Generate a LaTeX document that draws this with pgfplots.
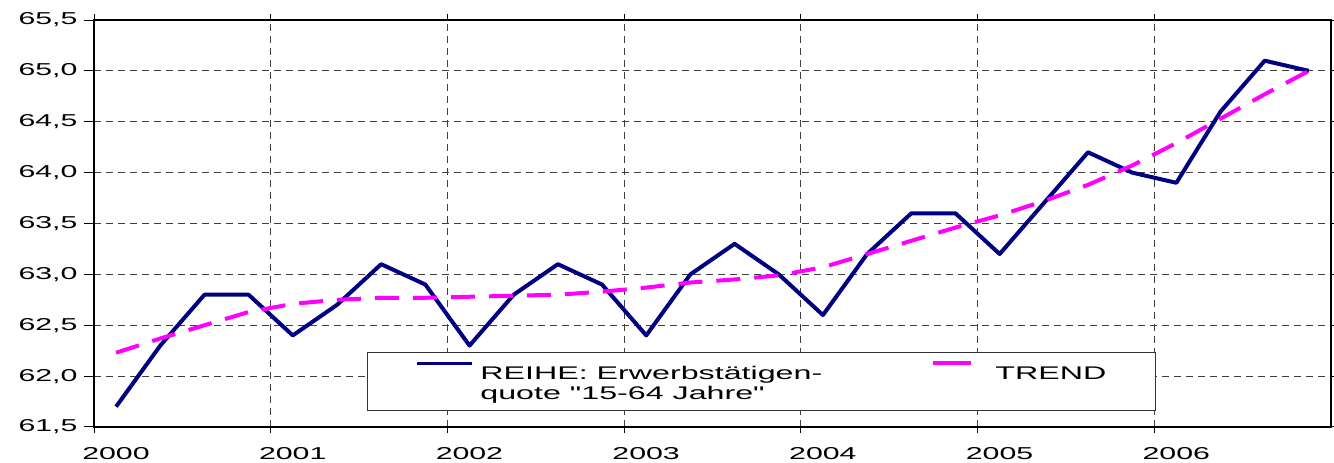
\documentclass[border=0pt]{standalone}
\usepackage{fontspec}
\setmainfont{Liberation Sans}
\newfontfamily\widefont[FakeStretch=1.76]{Liberation Sans}
\usepackage{pgfplots}
\pgfplotsset{compat=1.18}
\definecolor{navy}{RGB}{0,0,128}
\definecolor{trendmag}{RGB}{255,0,255}
\begin{document}
\begin{tikzpicture}
\path[use as bounding box] (0,0) rectangle (1334bp,463bp);
\begin{axis}[
  at={(94bp,36bp)}, anchor=south west,
  scale only axis, width=1237bp, height=407bp,
  xmin=0, xmax=28, ymin=61.5, ymax=65.5,
  xtick={0,4,...,24}, xticklabels={2000,2001,2002,2003,2004,2005,2006},
  ytick={61.5,62,...,65.5},
  /pgf/number format/assume math mode=true,
  yticklabel style={/pgf/number format/use comma, /pgf/number format/fixed, /pgf/number format/fixed zerofill, /pgf/number format/precision=1, xshift=-3bp},
  tick label style={font=\widefont\fontsize{17.2bp}{21bp}\selectfont},
  x tick label style={xshift=22bp, yshift=-7bp},
  tick align=outside, major tick length=10bp,
  x tick style={/pgfplots/major tick length=6bp},
  tick style={black, line width=1bp},
  xmajorgrids, ymajorgrids,
  grid style={black!75, line width=0.8bp, dash pattern=on 7bp off 5bp},
  axis line style={black, line width=1.3bp},
  legend style={at={(rel axis cs:0.2207,0.1843)}, anchor=north west,
    draw=black!80, line width=0.8bp, fill=white, inner xsep=0pt, inner ysep=9bp,
    column sep=0pt, row sep=0pt,
    nodes={inner sep=0pt, font=\widefont\fontsize{18.3bp}{20bp}\selectfont}},
  legend columns=2,
  legend cell align=left,
]
\addplot[navy, line width=4bp, line join=round,
  legend image code/.code={\path[draw=none,fill=none] (0bp,0bp) rectangle (113bp,20bp);
    \draw[navy, solid, line width=3bp] (50bp,20bp+0.35em) -- (105bp,20bp+0.35em);}]
  coordinates {
(0.5,61.7) (1.5,62.3) (2.5,62.8) (3.5,62.8) (4.5,62.4) (5.5,62.7) (6.5,63.1)
(7.5,62.9) (8.5,62.3) (9.5,62.8) (10.5,63.1) (11.5,62.9) (12.5,62.4) (13.5,63.0)
(14.5,63.3) (15.5,63.0) (16.5,62.6) (17.5,63.2) (18.5,63.6) (19.5,63.6) (20.5,63.2)
(21.5,63.7) (22.5,64.2) (23.5,64.0) (24.5,63.9) (25.5,64.6) (26.5,65.1) (27.5,65.0)
};
\addlegendentry{\parbox[b]{427bp}{\vspace*{-6bp}REIHE: Erwerbstätigen-\\quote "15-64 Jahre"}}
\addplot[trendmag, line width=4bp, dash pattern=on 24bp off 14bp,
  legend image code/.code={\path[draw=none,fill=none] (0bp,0bp) rectangle (88bp,20bp);
    \draw[trendmag, solid, line width=4bp] (26bp,20bp+0.35em) -- (64bp,20bp+0.35em);}]
  coordinates {
(0.5,62.23) (1.5,62.37) (2.5,62.50) (3.5,62.63) (4.5,62.71) (5.5,62.75) (6.5,62.77)
(7.5,62.77) (8.5,62.78) (9.5,62.79) (10.5,62.80) (11.5,62.83) (12.5,62.87) (13.5,62.92)
(14.5,62.95) (15.5,62.99) (16.5,63.07) (17.5,63.20) (18.5,63.33) (19.5,63.46) (20.5,63.58)
(21.5,63.72) (22.5,63.88) (23.5,64.07) (24.5,64.29) (25.5,64.53) (26.5,64.77) (27.5,65.00)
};
\addlegendentry{\parbox[b]{160bp}{\vspace*{-6bp}TREND\\\mbox{}}}
\end{axis}
\end{tikzpicture}
\end{document}
